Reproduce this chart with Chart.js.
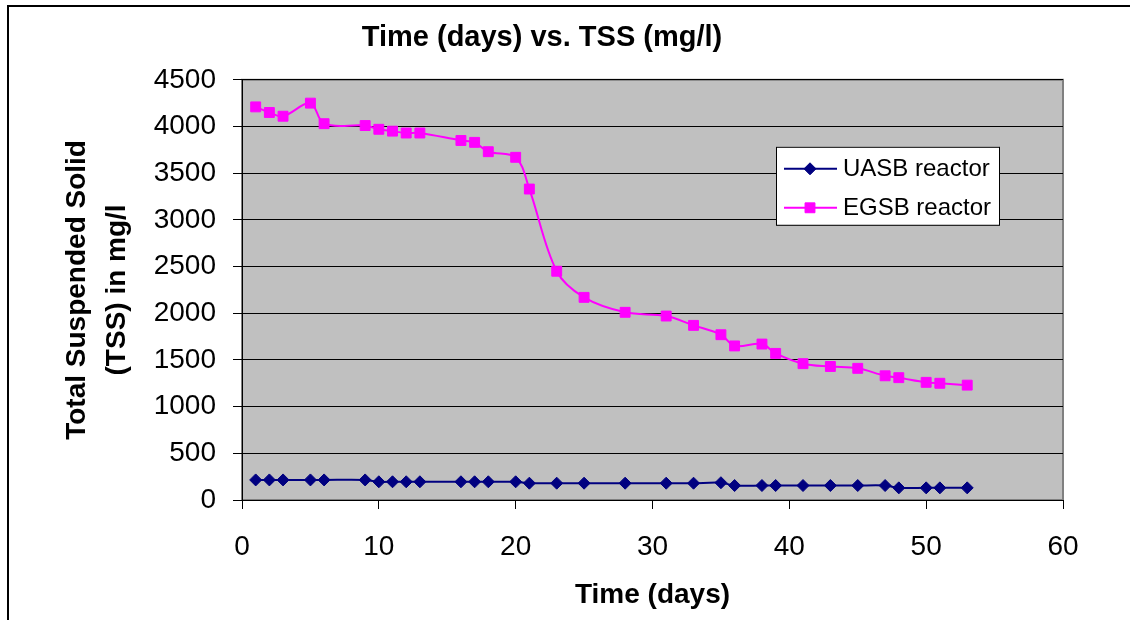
<!DOCTYPE html>
<html>
<head>
<meta charset="utf-8">
<title>Time (days) vs. TSS (mg/l)</title>
<script src="https://cdn.jsdelivr.net/npm/chart.js@4"></script>
<style>
  html, body { margin: 0; padding: 0; background: #fff; }
  #wrap { width: 1130px; height: 620px; }
</style>
</head>
<body>
<div id="wrap"><canvas id="tss" width="1130" height="620"></canvas></div>
<script>
// jours de mesure (communs aux deux réacteurs)
var days = [1, 2, 3, 5, 6, 9, 10, 11, 12, 13, 16, 17, 18, 20, 21, 23, 25, 28, 31, 33, 35, 36, 38, 39, 41, 43, 45, 47, 48, 50, 51, 53];
var uasbTss = [215, 215, 215, 215, 215, 215, 195, 195, 195, 195, 195, 195, 195, 195, 180, 180, 180, 180, 180, 180, 185, 155, 155, 155, 155, 155, 155, 155, 130, 130, 130, 130];
var egsbTss = [4210, 4150, 4110, 4250, 4030, 4010, 3970, 3950, 3930, 3930, 3850, 3830, 3730, 3670, 3330, 2450, 2170, 2010, 1970, 1870, 1770, 1650, 1670, 1570, 1460, 1430, 1410, 1330, 1310, 1260, 1250, 1230];
var seriesNames = ['UASB reactor', 'EGSB reactor'];
var xTicks = [0, 10, 20, 30, 40, 50, 60];
var yTicks = [0, 500, 1000, 1500, 2000, 2500, 3000, 3500, 4000, 4500];

var FONT = "Arial, 'Liberation Sans', sans-serif";

function toPoints(xs, ys) {
    return xs.map(function(x, i) { return { x: x, y: ys[i] }; });
}

// fond blanc, cadre noir et zone de tracé grise
var background = {
    id: 'background',
    beforeDraw: function(chart) {
        var ctx = chart.ctx, a = chart.chartArea;
        ctx.save();
        ctx.fillStyle = '#fff';
        ctx.fillRect(0, 0, chart.width, chart.height);
        ctx.strokeStyle = '#000';
        ctx.lineWidth = 2;
        ctx.strokeRect(8, 6, chart.width + 50, chart.height + 50);
        ctx.fillStyle = '#c0c0c0';
        ctx.fillRect(a.left, a.top, a.right - a.left, a.bottom - a.top);
        ctx.strokeStyle = '#808080';
        ctx.lineWidth = 2;
        ctx.strokeRect(a.left, a.top, a.right - a.left, a.bottom - a.top);
        ctx.restore();
    }
};

// légende encadrée dans la zone de tracé
var boxLegend = {
    id: 'boxLegend',
    afterDraw: function(chart) {
        var ctx = chart.ctx, a = chart.chartArea;
        var left = a.right - 287, top = a.top + 67, w = 223, h = 78;
        ctx.save();
        ctx.fillStyle = '#fff';
        ctx.fillRect(left, top, w, h);
        ctx.strokeStyle = '#000';
        ctx.lineWidth = 1;
        ctx.strokeRect(left + 0.5, top + 0.5, w, h);
        chart.data.datasets.forEach(function(ds, i) {
            var y = top + 22 + i * 39;
            ctx.strokeStyle = ds.borderColor;
            ctx.lineWidth = 2;
            ctx.beginPath();
            ctx.moveTo(left + 8, y);
            ctx.lineTo(left + 61, y);
            ctx.stroke();
            ctx.fillStyle = ds.backgroundColor;
            ctx.strokeStyle = ds.borderColor;
            ctx.lineWidth = 1;
            Chart.helpers.drawPoint(ctx, {
                pointStyle: ds.pointStyle,
                radius: ds.pointRadius,
                borderWidth: 1,
                rotation: 0
            }, left + 34, y);
            ctx.fillStyle = '#000';
            ctx.font = '24px ' + FONT;
            ctx.textBaseline = 'middle';
            ctx.textAlign = 'left';
            ctx.fillText(ds.label, left + 67, y + 1);
        });
        ctx.restore();
    }
};

var ctx = document.getElementById('tss').getContext('2d');
var chart = new Chart(ctx, {
    type: 'line',
    data: {
        datasets: [{
            label: seriesNames[0],
            data: toPoints(days, uasbTss),
            borderColor: '#000080',
            backgroundColor: '#000080',
            borderWidth: 2,
            pointStyle: 'rectRot',
            pointRadius: 6,
            pointBorderWidth: 1,
            tension: 0.3
        }, {
            label: seriesNames[1],
            data: toPoints(days, egsbTss),
            borderColor: '#ff00ff',
            backgroundColor: '#ff00ff',
            borderWidth: 2,
            pointStyle: 'rect',
            pointRadius: 7,
            pointBorderWidth: 1,
            tension: 0.35
        }]
    },
    options: {
        responsive: false,
        devicePixelRatio: 1,
        animation: false,
        layout: { padding: { left: 21, right: 67, top: 0, bottom: 0 } },
        plugins: {
            legend: { display: false },
            tooltip: { enabled: false },
            title: {
                display: true,
                text: 'Time (days) vs. TSS (mg/l)',
                color: '#000',
                font: { family: FONT, size: 29, weight: 'bold', lineHeight: 1.2 },
                padding: { top: 21, bottom: 24 }
            }
        },
        scales: {
            x: {
                type: 'linear',
                min: xTicks[0],
                max: xTicks[xTicks.length - 1],
                afterBuildTicks: function(scale) {
                    scale.ticks = xTicks.map(function(v) { return { value: v }; });
                },
                afterFit: function(scale) { scale.height = 120; },
                border: { display: true, color: '#000', width: 1 },
                grid: { drawOnChartArea: false, drawTicks: true, tickLength: 9, color: '#000' },
                ticks: {
                    color: '#000', padding: 21, font: { family: FONT, size: 28 },
                    callback: function(v) { return String(v); }
                },
                title: {
                    display: true,
                    text: 'Time (days)',
                    color: '#000',
                    font: { family: FONT, size: 28, weight: 'bold', lineHeight: 1.2 },
                    padding: { top: 0, bottom: 8 }
                }
            },
            y: {
                min: yTicks[0],
                max: yTicks[yTicks.length - 1],
                afterBuildTicks: function(scale) {
                    scale.ticks = yTicks.map(function(v) { return { value: v }; });
                },
                afterFit: function(scale) { scale.width = 221; },
                border: { display: true, color: '#000', width: 1 },
                grid: { color: '#000', lineWidth: 1, tickLength: 9 },
                ticks: {
                    color: '#000', padding: 17, font: { family: FONT, size: 28 },
                    callback: function(v) { return String(v); }
                },
                title: {
                    display: true,
                    text: ['Total Suspended Solid', '(TSS) in mg/l'],
                    color: '#000',
                    font: { family: FONT, size: 28, weight: 'bold', lineHeight: 1.43 },
                    padding: { top: 36, bottom: 0 }
                }
            }
        }
    },
    plugins: [background, boxLegend]
});
</script>
</body>
</html>
